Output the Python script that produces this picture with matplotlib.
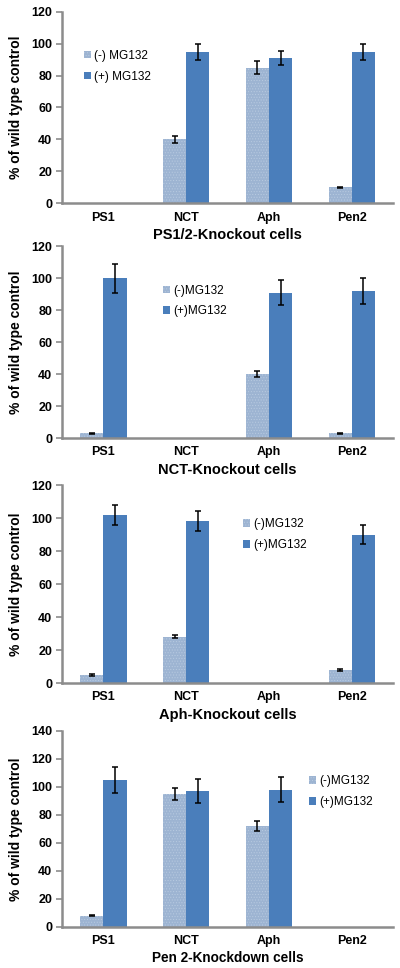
import numpy as np
import matplotlib.pyplot as plt

plt.rcParams['font.family'] = ['Liberation Sans', 'DejaVu Sans']
plt.rcParams['hatch.linewidth'] = 0.4

categories = ['PS1', 'NCT', 'Aph', 'Pen2']

# panel titles (x-axis labels)
titles = ['PS1/2-Knockout cells', 'NCT-Knockout cells', 'Aph-Knockout cells', 'Pen 2-Knockdown cells']
legend_minus = ['(-) MG132', '(-)MG132', '(-)MG132', '(-)MG132']
legend_plus = ['(+) MG132', '(+)MG132', '(+)MG132', '(+)MG132']

# (-) MG132 values and errors, nan = not measured (knocked-out protein)
minus_vals = [[np.nan, 40, 85, 10],
              [3, np.nan, 40, 3],
              [5, 28, np.nan, 8],
              [8, 95, 72, np.nan]]
minus_err = [[0, 2, 4, 0.5],
             [0.4, 0, 2, 0.4],
             [0.5, 1, 0, 0.5],
             [0.5, 4.5, 3.5, 0]]
# (+) MG132
plus_vals = [[np.nan, 95, 91, 95],
             [100, np.nan, 91, 92],
             [102, 98, np.nan, 90],
             [105, 97, 98, np.nan]]
plus_err = [[0, 5, 4.5, 5],
            [9, 0, 8, 8],
            [6, 6, 0, 5.5],
            [9, 8.5, 9, 0]]

ymax = [120, 120, 120, 140]

# axes placement [left, bottom, width, height] in figure fraction
boxes = [[0.155, 0.790, 0.828, 0.198],
         [0.155, 0.5475, 0.828, 0.198],
         [0.155, 0.2944, 0.828, 0.2045],
         [0.155, 0.0424, 0.828, 0.2025]]
legend_pos = [(0.065, 0.715), (0.305, 0.715), (0.545, 0.75), (0.745, 0.69)]
title_size = [10.5, 10.5, 10.5, 9.8]

light = '#9db4d2'
dark = '#4a7ebb'
grey = '#8c8c8c'

fig = plt.figure(figsize=(4, 9.68), dpi=100)
w = 0.28
x = np.arange(len(categories))

for i in range(4):
    ax = fig.add_axes(boxes[i])
    mv = np.array(minus_vals[i], dtype=float)
    pv = np.array(plus_vals[i], dtype=float)
    ax.bar(x - w / 2, np.nan_to_num(mv), w, color=light, hatch='......',
           edgecolor='#b9cbe1', linewidth=0, label=legend_minus[i])
    ax.bar(x + w / 2, np.nan_to_num(pv), w, color=dark, linewidth=0,
           label=legend_plus[i])
    ok = ~np.isnan(mv)
    ax.errorbar((x - w / 2)[ok], mv[ok], yerr=np.array(minus_err[i])[ok], fmt='none',
                ecolor='black', elinewidth=1.1, capsize=2.5, capthick=1.1)
    ok = ~np.isnan(pv)
    ax.errorbar((x + w / 2)[ok], pv[ok], yerr=np.array(plus_err[i])[ok], fmt='none',
                ecolor='black', elinewidth=1.1, capsize=2.5, capthick=1.1)

    ax.set_xlim(-0.5, 3.5)
    ax.set_ylim(0, ymax[i])
    ax.set_yticks(np.arange(0, ymax[i] + 1, 20))
    ax.set_xticks(x)
    ax.set_xticklabels(categories, fontweight='bold', fontsize=9)
    for lab in ax.get_yticklabels():
        lab.set_fontweight('bold')
        lab.set_fontsize(9)
    ax.tick_params(axis='y', direction='out', length=4, color=grey, width=1.2, pad=3)
    ax.tick_params(axis='x', length=0, pad=6)
    for s in ['top', 'right']:
        ax.spines[s].set_visible(False)
    for s in ['left', 'bottom']:
        ax.spines[s].set_color(grey)
        ax.spines[s].set_linewidth(1.8)
    ax.set_ylabel('% of wild type control', fontweight='bold', fontsize=10, labelpad=6)
    ax.set_xlabel(titles[i], fontweight='bold', fontsize=title_size[i], labelpad=3)

    h, l = ax.get_legend_handles_labels()
    ax.legend(h, l, loc='center left', bbox_to_anchor=legend_pos[i], frameon=False,
              fontsize=8.5, handlelength=0.6, handleheight=0.6, handletextpad=0.3,
              labelspacing=0.75, borderpad=0, borderaxespad=0)

fig.savefig('out.png', dpi=100)
